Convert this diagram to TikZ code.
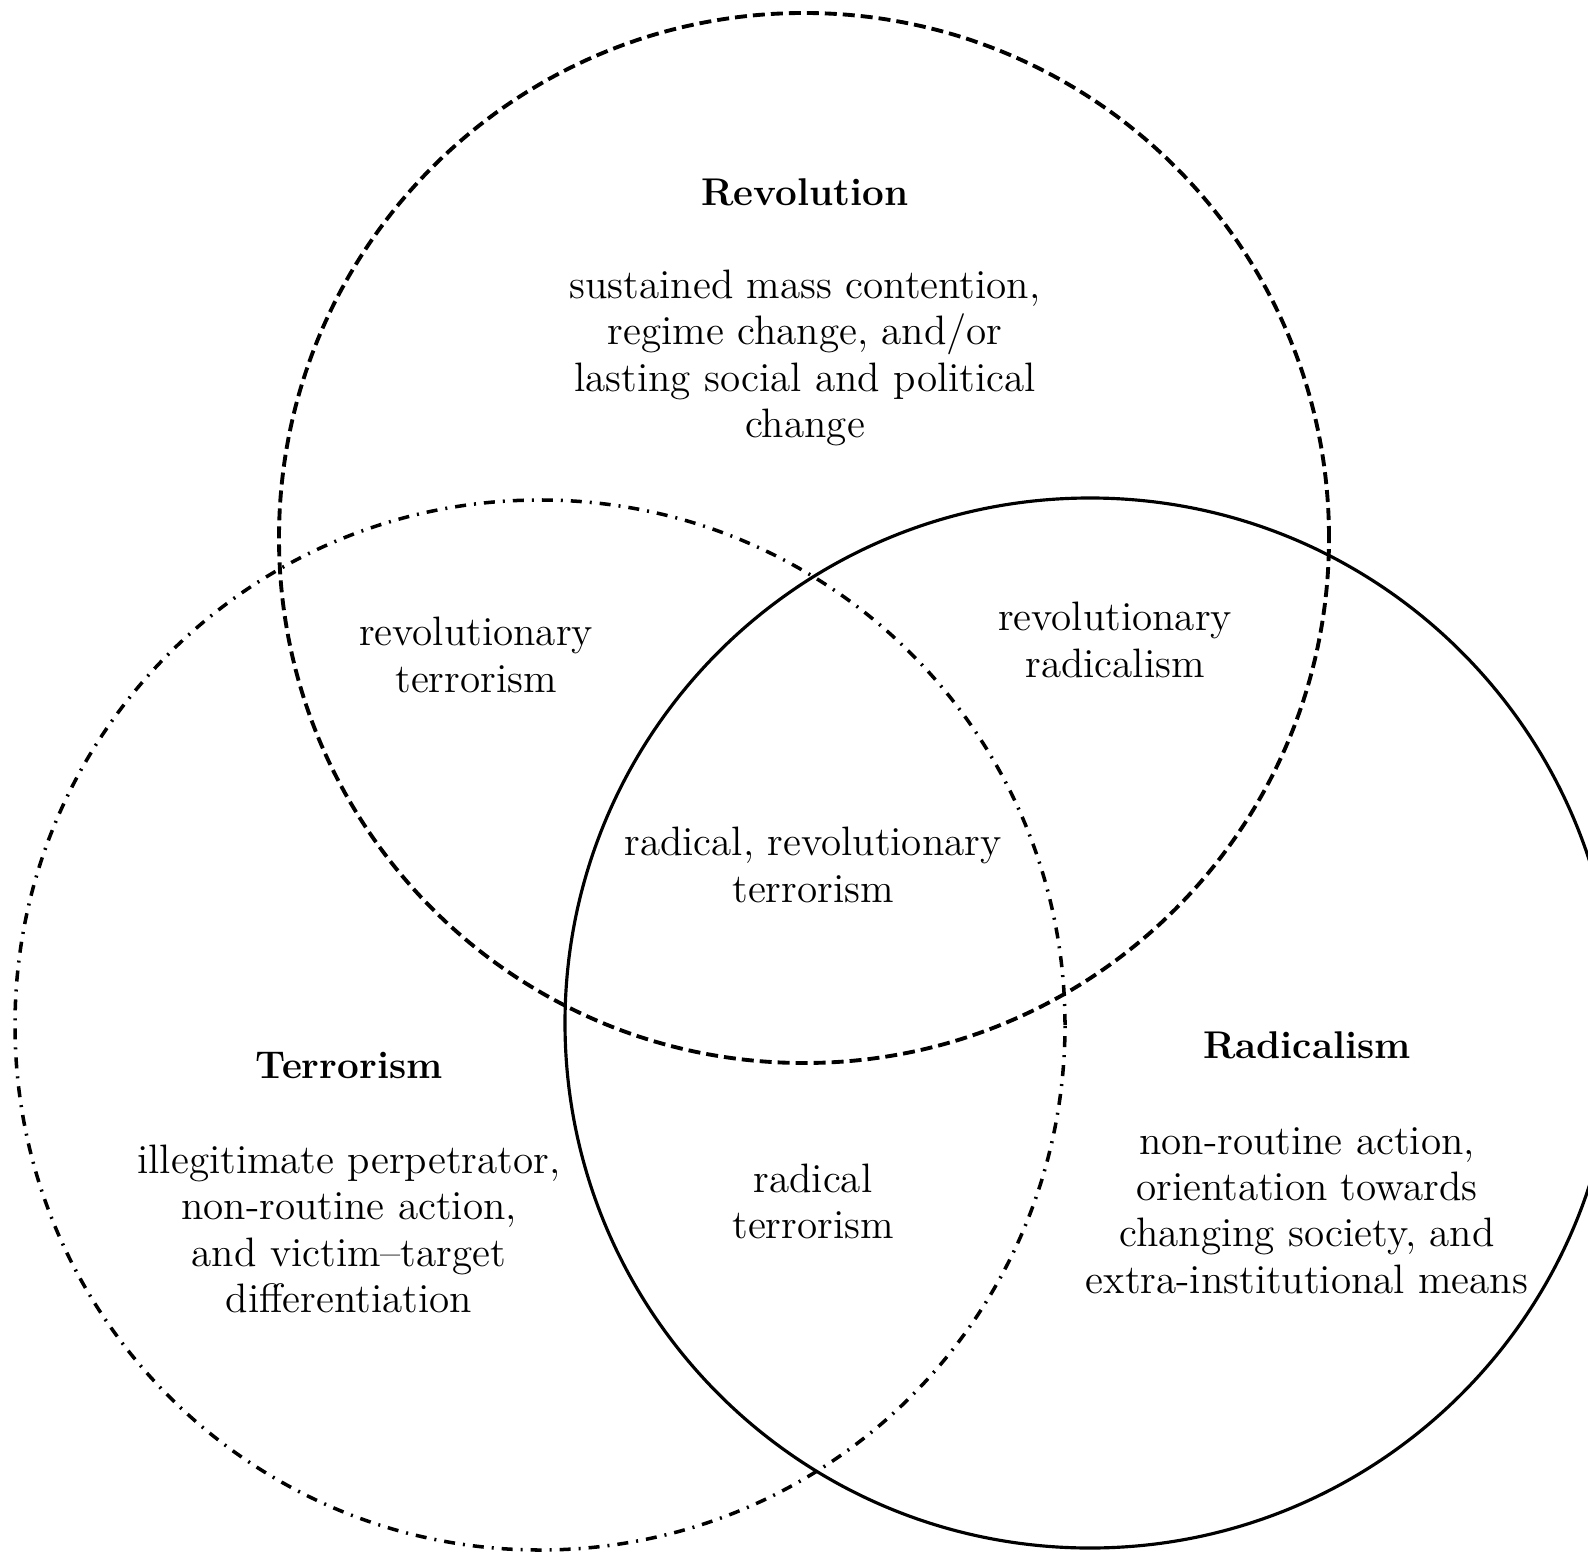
\documentclass[tikz,border=0pt]{standalone}
\usepackage{tikz}
\usetikzlibrary{positioning}

\begin{document}
\begin{tikzpicture}[
 ring/.style={circle,minimum size=10.5cm,inner sep=0pt,outer sep=0pt},
 revring/.style={ring,draw,line width=1.1pt,dash pattern=on 1.2mm off 0.6mm},
 terring/.style={ring,draw,line width=1pt,dash pattern=on 1.1mm off 0.8mm on 0.2mm off 0.8mm},
 radring/.style={ring,draw,line width=0.9pt},
 txt/.style={align=center,inner sep=0pt,font=\fontsize{11.7}{13.2}\selectfont},
 head/.style={txt,font=\fontsize{11}{13.2}\selectfont\bfseries}]
\useasboundingbox (0,0) rectangle (15.88,15.52);
\node[revring] (revolution) at (8.04,10.14) {};
\node[terring] (terrorism) at (5.40,5.27) {};
\node[radring] (radicalism) at (10.90,5.29) {};
% circle headings and descriptions
\node[head] (revhead) at (8.05,13.60) {Revolution};
\node[txt] (revtext) at (8.05,11.94) {sustained mass contention,\\regime change, and/or\\lasting social and political\\change};
\node[head] (terhead) at (3.49,4.87) {Terrorism};
\node[txt] (tertext) at (3.49,3.23) {illegitimate perpetrator,\\non-routine action,\\and victim--target\\differentiation};
\node[head] (radhead) at (13.07,5.07) {Radicalism};
\node[txt] (radtext) at (13.07,3.415) {non-routine action,\\orientation towards\\changing society, and\\extra-institutional means};
% overlaps
\node[txt] (revter) at (4.76,8.97) {revolutionary\\terrorism};
\node[txt] (revrad) at (11.15,9.12) {revolutionary\\radicalism};
\node[txt] (allthree) at (8.13,6.87) {radical, revolutionary\\terrorism};
\node[txt] (radter) at (8.13,3.505) {radical\\terrorism};
\end{tikzpicture}
\end{document}
